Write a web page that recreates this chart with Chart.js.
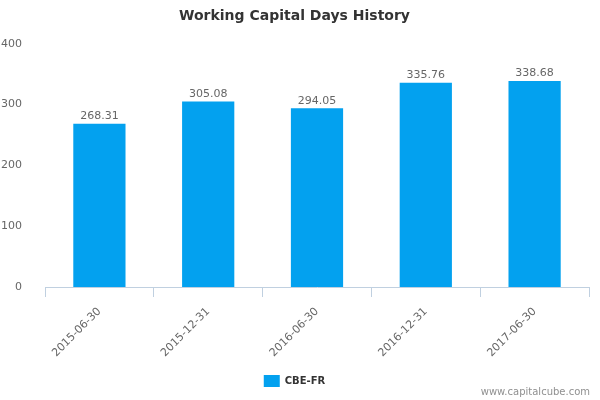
<!DOCTYPE html>
<html>
<head>
<meta charset="utf-8">
<script src="https://cdn.jsdelivr.net/npm/chart.js@4"></script>
<style>
  html, body { margin: 0; padding: 0; background: #fff; }
  #wrap { width: 600px; height: 400px; }
</style>
</head>
<body>
<div id="wrap"><canvas id="wcChart"></canvas></div>
<script>
// data
const periods = ['2015-06-30', '2015-12-31', '2016-06-30', '2016-12-31', '2017-06-30'];
const workingCapitalDays = [268.31, 305.08, 294.05, 335.76, 338.68];
const yTicks = [0, 100, 200, 300, 400];

Chart.defaults.font.family = '"DejaVu Sans", sans-serif';

// value labels above the bars + site credit
const barValues = {
  id: 'barValues',
  afterDatasetsDraw(chart) {
    const ctx = chart.ctx;
    const meta = chart.getDatasetMeta(0);
    ctx.save();
    ctx.font = '11px "DejaVu Sans", sans-serif';
    ctx.fillStyle = '#666666';
    ctx.textAlign = 'center';
    ctx.textBaseline = 'bottom';
    meta.data.forEach(function (bar, i) {
      ctx.fillText(workingCapitalDays[i].toFixed(2), bar.x, bar.y - 2);
    });
    ctx.font = '10px "DejaVu Sans", sans-serif';
    ctx.fillStyle = '#909090';
    ctx.textAlign = 'right';
    ctx.textBaseline = 'middle';
    ctx.fillText('www.capitalcube.com', 590, 392);
    ctx.restore();
  }
};

new Chart(document.getElementById('wcChart').getContext('2d'), {
  type: 'bar',
  data: {
    labels: periods,
    datasets: [{
      label: 'CBE-FR',
      data: workingCapitalDays,
      backgroundColor: '#03A1EF',
      barPercentage: 0.48,
      categoryPercentage: 1.0
    }]
  },
  options: {
    responsive: true,
    maintainAspectRatio: false,
    animation: false,
    layout: { padding: { left: 0, right: 11, top: 0, bottom: 3 } },
    scales: {
      x: {
        grid: {
          display: true,
          drawOnChartArea: false,
          drawTicks: true,
          tickLength: 10,
          color: '#C0D0E0',
          offset: true
        },
        border: { display: true, color: '#C0D0E0' },
        ticks: {
          color: '#666666',
          font: { size: 11 },
          maxRotation: 45,
          minRotation: 45,
          padding: 8
        },
        afterFit(scale) { scale.height = 82; }
      },
      y: {
        min: 0,
        max: 400,
        afterBuildTicks(scale) {
          scale.ticks = yTicks.map(v => ({ value: v }));
        },
        grid: { display: false },
        border: { display: false },
        ticks: {
          color: '#666666',
          font: { size: 11 },
          padding: 15
        },
        afterFit(scale) { scale.width = 45; }
      }
    },
    plugins: {
      title: {
        display: true,
        text: 'Working Capital Days History',
        color: '#333333',
        font: { size: 14, weight: 'bold' },
        padding: { top: 8, bottom: 19 }
      },
      legend: {
        position: 'bottom',
        labels: {
          boxWidth: 16,
          boxHeight: 12,
          color: '#333333',
          font: { size: 10, weight: 'bold' },
          padding: 6
        }
      },
      tooltip: { enabled: false }
    }
  },
  plugins: [barValues]
});
</script>
</body>
</html>
